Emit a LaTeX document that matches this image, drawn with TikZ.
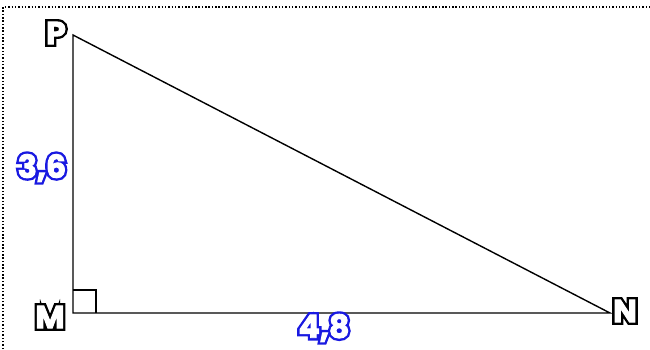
\documentclass[tikz,border=0pt]{standalone}
\usepackage{fontspec}
\usetikzlibrary{positioning,calc}
\newfontfamily\lblthick[FakeBold=18]{Poppins Bold}
\newfontfamily\lblthin[FakeBold=3]{Poppins Bold}
\definecolor{lenblue}{RGB}{25,25,225}
\newcommand\hollow[2]{\rlap{\color{#1}\lblthick #2}{\color{white}\lblthin #2}}

\begin{document}
\begin{tikzpicture}[
  x=0.02cm, y=-0.02cm,
  side/.style={line width=0.8pt, black},
  vtx/.style={inner sep=0pt, font=\fontsize{18}{18}\selectfont},
  len/.style={inner sep=0pt, font=\fontsize{18}{18}\selectfont},
  frame/.style={line width=0.8pt, dash pattern=on 0.8pt off 1.1pt},
]
\useasboundingbox (0,0) rectangle (650,349);
\draw[frame] (3,349) |- (650,7);
\coordinate (M) at (73,313);
\coordinate (P) at (73,35);
\coordinate (N) at (610,313);
\draw[side] (P) -- (M) -- (N) -- cycle;
\draw[side] ($(M)+(0,-23)$) -| ($(M)+(23,0)$);
\node[vtx] (lP) at (56,33) {\hollow{black}{P}};
\node[vtx] (lM) at (50,317) {\hollow{black}{M}};
\node[vtx] (lN) at (625,311) {\hollow{black}{N}};
\node[len] (lPM) at (42,168) {\hollow{lenblue}{3,6}};
\node[len] (lMN) at (324,328) {\hollow{lenblue}{4,8}};
\end{tikzpicture}
\end{document}
